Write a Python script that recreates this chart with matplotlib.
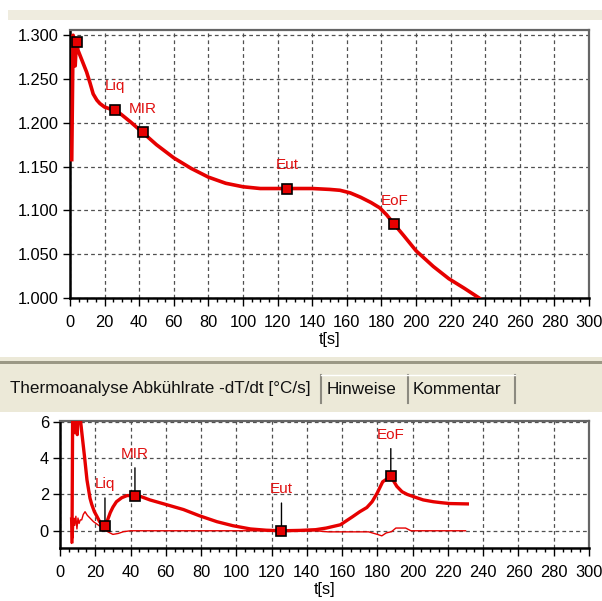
import matplotlib
matplotlib.use('Agg')
import matplotlib.pyplot as plt
from matplotlib.patches import Rectangle
from matplotlib.lines import Line2D
from matplotlib.ticker import MultipleLocator, FormatStrFormatter

plt.rcParams['font.family'] = ['Liberation Sans', 'DejaVu Sans']

# Abkühlkurve (oben)
t_cool = [1.0, 1.8, 2.4, 3.0, 3.5, 4.0, 4.6, 6.0, 8.0, 9.6,
          11.5, 13.4, 15.5, 17.3, 20.0, 23.0, 26.0, 30.0, 35.0, 42.0,
          50.0, 60.0, 70.0, 80.0, 90.0, 100.0, 110.0, 125.5, 140.0, 150.0,
          156.0, 162.0, 168.0, 174.0, 179.0, 183.0, 187.5, 193.0, 200.0, 210.0,
          219.0, 228.0, 236.5]
temp_cool = [1.158, 1.300, 1.295, 1.265, 1.285, 1.292, 1.283, 1.276, 1.266, 1.258,
             1.246, 1.233, 1.226, 1.222, 1.218, 1.216, 1.215, 1.209, 1.201, 1.189,
             1.175, 1.160, 1.148, 1.138, 1.131, 1.127, 1.125, 1.125, 1.125, 1.124,
             1.123, 1.120, 1.115, 1.109, 1.103, 1.095, 1.084, 1.071, 1.054, 1.036,
             1.022, 1.011, 1.000]

# Abkühlrate -dT/dt (unten, dick)
t_rate = [6.8, 7.2, 7.8, 8.3, 8.8, 9.3, 9.8, 10.3, 11.0, 11.5,
          12.5, 14.0, 15.3, 17.0, 18.0, 19.5, 21.0, 22.5, 24.0, 25.5,
          27.0, 28.5, 30.0, 32.0, 35.0, 38.0, 42.5, 46.0, 51.0, 60.0,
          70.0, 79.0, 89.0, 98.0, 108.0, 117.0, 125.6, 136.0, 145.0, 151.0,
          159.0, 166.0, 170.0, 174.0, 177.0, 180.0, 183.0, 187.6, 191.0, 194.0,
          197.0, 202.0, 206.0, 211.7, 216.0, 221.0, 231.0]
rate = [-0.6, 7.0, 5.4, 7.0, 5.6, 7.0, 5.3, 7.0, 7.0, 6.2,
        5.3, 4.0, 2.8, 1.8, 1.45, 1.05, 0.78, 0.5, 0.33, 0.28,
        0.6, 1.0, 1.3, 1.6, 1.82, 1.94, 1.94, 1.88, 1.7, 1.45,
        1.17, 0.83, 0.5, 0.28, 0.1, 0.03, 0.0, 0.02, 0.06, 0.15,
        0.33, 0.78, 1.05, 1.28, 1.6, 2.1, 2.7, 3.0, 2.45, 2.15,
        2.0, 1.83, 1.7, 1.6, 1.55, 1.5, 1.48]

# Ableitung der Abkühlrate (unten, dünn)
t_rate2 = [6.0, 6.6, 7.0, 7.4, 7.9, 8.4, 9.0, 9.6, 10.2, 10.8,
           11.5, 12.3, 13.2, 14.2, 15.5, 17.0, 19.0, 21.5, 24.0, 27.0,
           30.0, 33.0, 36.0, 40.0, 60.0, 100.0, 145.0, 152.0, 165.0, 175.0,
           180.0, 182.5, 185.0, 188.0, 190.5, 196.0, 199.0, 230.0]
rate2 = [0.7, -0.7, 0.2, -0.4, 0.7, 0.3, 0.8, 0.1, 0.7, 0.4,
         0.6, 0.6, 0.9, 1.05, 0.85, 0.7, 0.5, 0.33, 0.15, -0.05,
         -0.2, -0.15, -0.05, 0.0, 0.0, 0.0, 0.0, -0.06, -0.06, -0.06,
         -0.2, -0.28, -0.12, -0.05, 0.15, 0.15, 0.0, 0.0]

# Kennpunkte
top_names = ['', 'Liq', 'MIR', 'Eut', 'EoF']
top_t = [4.0, 26.0, 42.0, 125.5, 187.5]
top_temp = [1.292, 1.215, 1.189, 1.125, 1.084]

rate_names = ['Liq', 'MIR', 'Eut', 'EoF']
rate_t = [25.5, 42.5, 125.6, 187.6]
rate_val = [0.28, 1.94, 0.0, 3.0]

tab_labels = ['Thermoanalyse Abkühlrate -dT/dt [°C/s]', 'Hinweise', 'Kommentar']

RED = '#e60000'
TXT_RED = '#e01010'
W, H = 602, 601


def fx(px):
    return px / W


def fy(py):
    return 1 - py / H


def style_axes(ax):
    ax.set_xlim(0, 300)
    ax.xaxis.set_major_locator(MultipleLocator(20))
    ax.xaxis.set_minor_locator(MultipleLocator(5))
    ax.grid(True, which='major', linestyle=(0, (3, 2.5)), color='#505050', lw=0.9)
    ax.set_axisbelow(True)
    for s in ['left', 'bottom']:
        ax.spines[s].set_color('black')
        ax.spines[s].set_linewidth(1.8)
    for s in ['top', 'right']:
        ax.spines[s].set_color('#666666')
        ax.spines[s].set_linewidth(1.6)
    ax.tick_params(axis='x', which='major', length=6, width=1, pad=6, labelsize=11.8)
    ax.tick_params(axis='x', which='minor', length=3, width=1)
    ax.tick_params(axis='y', which='major', length=5, width=1, pad=3, labelsize=11.8)
    ax.set_xlabel('t[s]', fontsize=11.8, labelpad=2)


fig = plt.figure(figsize=(6.02, 6.01), dpi=100)

# Fensterleisten
fig.add_artist(Rectangle((fx(8), fy(20)), 1, fy(10) - fy(20), transform=fig.transFigure,
                         facecolor='#efecdf', edgecolor='none'))
fig.add_artist(Rectangle((0, fy(412)), 1, fy(357) - fy(412), transform=fig.transFigure,
                         facecolor='#ece9d8', edgecolor='none'))
fig.add_artist(Rectangle((0, fy(364)), 1, fy(361) - fy(364), transform=fig.transFigure,
                         facecolor='#9b9885', edgecolor='none'))
for sx in [321, 408, 515]:
    fig.add_artist(Line2D([fx(sx), fx(sx)], [fy(375), fy(403)], transform=fig.transFigure,
                          color='#8c8a80', lw=1.5))
fig.add_artist(Line2D([fx(321), fx(515)], [fy(375), fy(375)], transform=fig.transFigure,
                      color='white', lw=1))
for lbl, lx in zip(tab_labels, [10, 327, 413]):
    fig.text(fx(lx), fy(389), lbl, fontsize=12.3, ha='left', va='center', color='#111111')

# oberes Diagramm
ax1 = fig.add_axes([fx(70), fy(298), fx(589) - fx(70), fy(30) - fy(298)])
style_axes(ax1)
ax1.set_ylim(1.0, 1.306)
ax1.yaxis.set_major_locator(MultipleLocator(0.05))
ax1.yaxis.set_major_formatter(FormatStrFormatter('%.3f'))
ax1.plot(t_cool, temp_cool, color=RED, lw=2.6, zorder=3)
ax1.plot(top_t, top_temp, 's', ms=7.3, mfc=RED, mec='black', mew=1.2, zorder=5)
for name, t, v in zip(top_names, top_t, top_temp):
    if name:
        ax1.annotate(name, (t, v), xytext=(0, 17), textcoords='offset points',
                     ha='center', va='center', color=TXT_RED, fontsize=11)

# unteres Diagramm
ax2 = fig.add_axes([fx(60), fy(548), fx(589) - fx(60), fy(421) - fy(548)])
style_axes(ax2)
ax2.set_ylim(-0.95, 6.05)
ax2.yaxis.set_major_locator(MultipleLocator(2))
ax2.plot(t_rate2, rate2, color=RED, lw=1.0, zorder=3)
ax2.plot(t_rate, rate, color=RED, lw=2.4, zorder=3)
for name, t, v in zip(rate_names, rate_t, rate_val):
    ax2.annotate(name, (t, v), xytext=(0, 30), textcoords='offset points',
                 ha='center', va='center', color=TXT_RED, fontsize=11, zorder=4,
                 arrowprops=dict(arrowstyle='-', color='black', lw=1, shrinkA=3, shrinkB=0))
ax2.plot(rate_t, rate_val, 's', ms=7.3, mfc=RED, mec='black', mew=1.2, zorder=5)

fig.savefig('out.png', dpi=100)
